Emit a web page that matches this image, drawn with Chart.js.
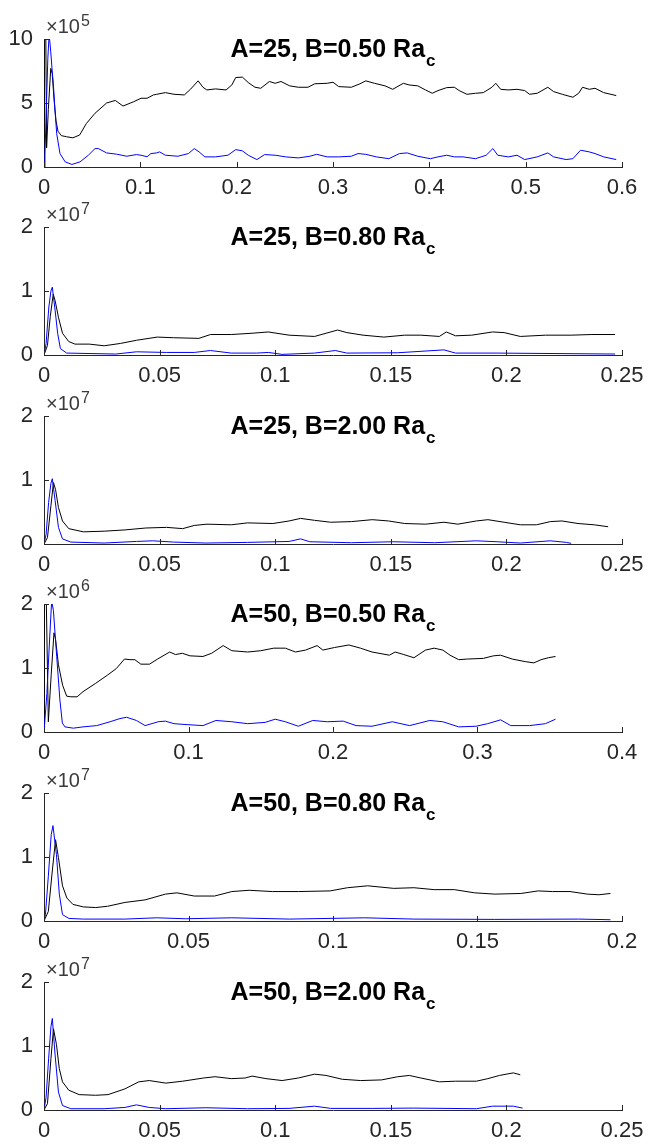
<!DOCTYPE html>
<html>
<head>
<meta charset="utf-8">
<script src="https://cdn.jsdelivr.net/npm/chart.js@4/dist/chart.umd.min.js"></script>
<style>
  html, body { margin: 0; padding: 0; background: #fff; }
  #wrap { position: relative; width: 648px; height: 1144px; overflow: hidden; }
  canvas { position: absolute; left: 0; }
</style>
</head>
<body>
<div id="wrap"></div>
<script>
// ---------- data (values in units of 10^exponent) ----------
const titles = ['A=25, B=0.50 Ra', 'A=25, B=0.80 Ra', 'A=25, B=2.00 Ra', 'A=50, B=0.50 Ra', 'A=50, B=0.80 Ra', 'A=50, B=2.00 Ra'];
const titleSub = 'c';
const exponents = [5, 7, 7, 6, 7, 7];
const xTicks = [
  [0, 0.1, 0.2, 0.3, 0.4, 0.5, 0.6],
  [0, 0.05, 0.1, 0.15, 0.2, 0.25],
  [0, 0.05, 0.1, 0.15, 0.2, 0.25],
  [0, 0.1, 0.2, 0.3, 0.4],
  [0, 0.05, 0.1, 0.15, 0.2],
  [0, 0.05, 0.1, 0.15, 0.2, 0.25]
];
const yTicks = [
  [0, 5, 10],
  [0, 1, 2],
  [0, 1, 2],
  [0, 1, 2],
  [0, 1, 2],
  [0, 1, 2]
];

const p1Black = [[0,0],[0.0002,12],[0.0017,12],[0.0027,1.5],[0.0045,4.5],[0.007,7.7],[0.0085,7.3],[0.0105,5.2],[0.0125,3.6],[0.0145,2.8],[0.018,2.45],[0.0236,2.36],[0.030,2.28],[0.037,2.5],[0.044,3.4],[0.053,4.2],[0.065,5.0],[0.074,5.2],[0.082,4.76],[0.093,5.1],[0.1007,5.37],[0.107,5.37],[0.1136,5.63],[0.117,5.68],[0.126,5.81],[0.135,5.68],[0.1457,5.63],[0.152,6.07],[0.16,6.73],[0.165,6.23],[0.169,6.02],[0.178,6.1],[0.189,6.02],[0.195,6.41],[0.199,6.99],[0.206,7.02],[0.212,6.6],[0.219,6.23],[0.225,6.15],[0.234,6.68],[0.24,6.54],[0.246,6.68],[0.255,6.34],[0.264,6.23],[0.274,6.23],[0.281,6.5],[0.294,6.54],[0.3,6.62],[0.306,6.28],[0.319,6.23],[0.328,6.5],[0.334,6.73],[0.343,6.54],[0.354,6.34],[0.362,6.07],[0.373,6.54],[0.379,6.41],[0.388,6.34],[0.396,6.02],[0.403,5.76],[0.409,5.97],[0.418,6.2],[0.426,6.23],[0.431,5.97],[0.439,5.68],[0.448,5.76],[0.456,5.81],[0.465,6.23],[0.469,6.54],[0.474,6.07],[0.482,6.02],[0.491,6.07],[0.499,5.97],[0.504,5.68],[0.512,5.76],[0.523,6.23],[0.529,5.89],[0.538,5.68],[0.549,5.45],[0.555,5.76],[0.559,6.23],[0.566,6.07],[0.572,6.15],[0.581,5.81],[0.594,5.58]];
const p1Blue = [[0,0],[0.001,1],[0.002,3.5],[0.003,6],[0.004,8.5],[0.005,9.9],[0.0058,10],[0.007,9],[0.0085,7.5],[0.0097,6.5],[0.0114,4.45],[0.0132,2.6],[0.0166,1.05],[0.022,0.4],[0.029,0.2],[0.0374,0.4],[0.046,0.92],[0.053,1.44],[0.0564,1.44],[0.065,1.1],[0.0755,1.0],[0.0858,0.84],[0.096,0.97],[0.1007,0.92],[0.107,0.8],[0.111,1.05],[0.117,1.1],[0.12,1.18],[0.126,0.92],[0.139,0.84],[0.15,1.05],[0.156,1.44],[0.161,1.18],[0.167,0.79],[0.178,0.79],[0.191,0.92],[0.199,1.36],[0.206,1.26],[0.212,0.92],[0.221,0.58],[0.229,0.97],[0.24,0.92],[0.251,0.79],[0.264,0.71],[0.276,0.84],[0.283,0.99],[0.294,0.79],[0.306,0.79],[0.319,0.84],[0.326,1.05],[0.334,0.99],[0.345,0.79],[0.358,0.65],[0.369,1.05],[0.377,1.1],[0.388,0.84],[0.401,0.65],[0.409,0.79],[0.418,0.92],[0.426,0.79],[0.435,0.79],[0.448,0.65],[0.459,0.92],[0.466,1.44],[0.471,0.92],[0.482,0.79],[0.491,0.92],[0.499,0.58],[0.512,0.79],[0.523,1.1],[0.529,0.79],[0.542,0.58],[0.549,0.65],[0.557,1.31],[0.566,1.18],[0.572,1.05],[0.581,0.79],[0.594,0.58]];

const p2Black = [[0,0],[0.0015,0.15],[0.0027,0.6],[0.004,0.95],[0.0048,0.85],[0.00625,0.59],[0.008,0.34],[0.0107,0.21],[0.0134,0.17],[0.0196,0.17],[0.026,0.144],[0.033,0.18],[0.040,0.23],[0.049,0.28],[0.056,0.27],[0.067,0.26],[0.072,0.32],[0.081,0.32],[0.09,0.34],[0.097,0.36],[0.106,0.31],[0.117,0.29],[0.122,0.34],[0.127,0.39],[0.131,0.35],[0.138,0.31],[0.147,0.28],[0.156,0.31],[0.163,0.31],[0.171,0.29],[0.174,0.36],[0.178,0.30],[0.185,0.31],[0.194,0.36],[0.199,0.35],[0.206,0.29],[0.217,0.31],[0.228,0.31],[0.237,0.32],[0.247,0.32]];
const p2Blue = [[0,0],[0.0009,0.18],[0.0021,0.75],[0.003,1.0],[0.0036,1.06],[0.0048,0.7],[0.0059,0.34],[0.0071,0.10],[0.0098,0.03],[0.031,0.015],[0.04,0.05],[0.053,0.04],[0.065,0.04],[0.072,0.07],[0.081,0.03],[0.092,0.03],[0.097,0.04],[0.103,0.01],[0.117,0.03],[0.126,0.07],[0.131,0.03],[0.153,0.035],[0.173,0.08],[0.178,0.03],[0.196,0.03],[0.247,0.015]];

const p3Black = [[0,0],[0.0015,0.1],[0.003,0.6],[0.0041,0.96],[0.005,0.85],[0.00625,0.57],[0.008,0.36],[0.0107,0.24],[0.017,0.19],[0.026,0.2],[0.035,0.22],[0.044,0.25],[0.053,0.26],[0.06,0.24],[0.065,0.29],[0.0705,0.31],[0.081,0.30],[0.088,0.33],[0.099,0.32],[0.106,0.36],[0.111,0.40],[0.117,0.37],[0.124,0.34],[0.133,0.35],[0.142,0.38],[0.149,0.36],[0.156,0.32],[0.165,0.31],[0.173,0.34],[0.179,0.31],[0.187,0.36],[0.192,0.38],[0.199,0.34],[0.206,0.30],[0.213,0.30],[0.219,0.35],[0.224,0.36],[0.231,0.32],[0.238,0.30],[0.244,0.27]];
const p3Blue = [[0,0],[0.0009,0.15],[0.002,0.65],[0.003,0.95],[0.0036,1.02],[0.0048,0.68],[0.00625,0.26],[0.008,0.08],[0.0116,0.03],[0.026,0.015],[0.04,0.04],[0.047,0.05],[0.056,0.03],[0.07,0.015],[0.088,0.025],[0.106,0.04],[0.111,0.08],[0.115,0.035],[0.133,0.02],[0.151,0.035],[0.169,0.02],[0.187,0.05],[0.196,0.035],[0.206,0.015],[0.219,0.05],[0.226,0.025],[0.228,0.01]];

const p4Black = [[0,0],[0.0002,2.3],[0.0014,2.3],[0.003,0.16],[0.005,0.9],[0.0069,1.55],[0.008,1.45],[0.01,1.05],[0.0129,0.73],[0.0157,0.56],[0.0186,0.55],[0.0229,0.55],[0.027,0.63],[0.0357,0.76],[0.044,0.89],[0.05,0.99],[0.0557,1.14],[0.0595,1.13],[0.0629,1.13],[0.067,1.06],[0.073,1.06],[0.0786,1.14],[0.087,1.25],[0.091,1.21],[0.0957,1.23],[0.101,1.19],[0.11,1.18],[0.116,1.23],[0.124,1.35],[0.13,1.27],[0.141,1.25],[0.15,1.27],[0.159,1.31],[0.167,1.31],[0.174,1.25],[0.181,1.28],[0.189,1.35],[0.193,1.28],[0.201,1.32],[0.211,1.36],[0.219,1.31],[0.227,1.25],[0.239,1.2],[0.243,1.25],[0.249,1.21],[0.256,1.16],[0.264,1.28],[0.27,1.31],[0.276,1.28],[0.281,1.2],[0.287,1.13],[0.293,1.14],[0.304,1.15],[0.311,1.19],[0.316,1.2],[0.324,1.14],[0.333,1.1],[0.339,1.08],[0.344,1.13],[0.349,1.16],[0.354,1.18]];
const p4Blue = [[0,0],[0.002,0.6],[0.004,1.5],[0.0053,2.05],[0.0065,1.9],[0.0088,1.18],[0.011,0.5],[0.0127,0.14],[0.0145,0.08],[0.0203,0.06],[0.027,0.08],[0.0365,0.1],[0.0457,0.16],[0.0526,0.21],[0.0572,0.23],[0.064,0.18],[0.07,0.1],[0.079,0.16],[0.084,0.17],[0.09,0.13],[0.099,0.115],[0.11,0.1],[0.119,0.18],[0.13,0.16],[0.141,0.13],[0.153,0.15],[0.16,0.2],[0.167,0.16],[0.176,0.09],[0.186,0.18],[0.196,0.16],[0.207,0.17],[0.216,0.1],[0.227,0.09],[0.241,0.16],[0.253,0.1],[0.267,0.18],[0.276,0.16],[0.287,0.08],[0.299,0.09],[0.307,0.13],[0.316,0.19],[0.323,0.1],[0.336,0.1],[0.347,0.13],[0.354,0.2]];

const p5Black = [[0,0],[0.0015,0.15],[0.0028,0.75],[0.004,1.27],[0.005,0.99],[0.0064,0.55],[0.0079,0.36],[0.01,0.26],[0.0136,0.22],[0.0179,0.21],[0.022,0.23],[0.028,0.29],[0.035,0.33],[0.042,0.42],[0.046,0.44],[0.052,0.39],[0.059,0.39],[0.065,0.46],[0.071,0.48],[0.079,0.46],[0.088,0.46],[0.099,0.47],[0.105,0.52],[0.112,0.55],[0.121,0.51],[0.128,0.52],[0.135,0.49],[0.142,0.49],[0.149,0.44],[0.156,0.42],[0.165,0.43],[0.171,0.47],[0.176,0.46],[0.182,0.46],[0.188,0.42],[0.192,0.41],[0.196,0.43]];
const p5Blue = [[0,0],[0.0005,0.1],[0.0015,0.7],[0.0025,1.35],[0.0031,1.49],[0.0043,1.04],[0.0053,0.42],[0.0064,0.10],[0.0086,0.04],[0.0136,0.03],[0.028,0.03],[0.039,0.05],[0.049,0.035],[0.065,0.05],[0.085,0.03],[0.111,0.05],[0.128,0.03],[0.156,0.025],[0.185,0.03],[0.196,0.02]];

const p6Black = [[0,0],[0.0015,0.1],[0.003,0.8],[0.0041,1.27],[0.0054,1.02],[0.0066,0.65],[0.008,0.44],[0.0107,0.31],[0.0152,0.24],[0.0223,0.23],[0.0277,0.24],[0.035,0.33],[0.041,0.44],[0.0455,0.46],[0.0527,0.42],[0.06,0.45],[0.069,0.5],[0.074,0.52],[0.081,0.49],[0.087,0.5],[0.09,0.53],[0.096,0.49],[0.103,0.46],[0.11,0.5],[0.117,0.56],[0.122,0.54],[0.129,0.48],[0.137,0.46],[0.146,0.47],[0.153,0.52],[0.158,0.54],[0.163,0.5],[0.171,0.44],[0.178,0.45],[0.187,0.45],[0.192,0.49],[0.197,0.54],[0.203,0.58],[0.206,0.55]];
const p6Blue = [[0,0],[0.0009,0.2],[0.002,0.8],[0.003,1.3],[0.0036,1.43],[0.0048,0.86],[0.00625,0.28],[0.008,0.07],[0.0116,0.02],[0.026,0.02],[0.035,0.04],[0.04,0.08],[0.0455,0.04],[0.0527,0.02],[0.07,0.035],[0.088,0.02],[0.106,0.025],[0.117,0.06],[0.124,0.025],[0.142,0.025],[0.16,0.03],[0.187,0.02],[0.194,0.06],[0.203,0.06],[0.207,0.03]];

const blackSeries = [p1Black, p2Black, p3Black, p4Black, p5Black, p6Black];
const blueSeries = [p1Blue, p2Blue, p3Blue, p4Blue, p5Blue, p6Blue];

// ---------- layout / style ----------
const FONT = '"Liberation Sans", Arial, Helvetica, sans-serif';
const AXIS = '#262626';
const canvasTops = [0, 188, 377, 565, 754, 943];
const CANVAS_H = 200, PLOT_TOP = 39, PLOT_H = 128, PLOT_LEFT = 44, PLOT_RIGHT_PAD = 26;

const decor = {
  id: 'decor',
  afterDraw(chart, args, opts) {
    const ctx = chart.ctx;
    const { left, right, top, bottom } = chart.chartArea;
    const xs = chart.scales.x, ys = chart.scales.y;
    ctx.save();
    // inward tick marks
    ctx.strokeStyle = AXIS;
    ctx.lineWidth = 1;
    ctx.beginPath();
    xs.ticks.forEach(t => {
      const px = Math.round(xs.getPixelForValue(t.value)) + 0.5;
      ctx.moveTo(px, bottom);
      ctx.lineTo(px, bottom - 5);
    });
    ys.ticks.forEach(t => {
      const py = Math.round(ys.getPixelForValue(t.value)) + 0.5;
      ctx.moveTo(left, py);
      ctx.lineTo(left + 5, py);
    });
    ctx.stroke();
    // exponent label
    ctx.fillStyle = '#3a3a3a';
    ctx.textAlign = 'left';
    ctx.textBaseline = 'alphabetic';
    ctx.font = '20px ' + FONT;
    const base = '\u00d710';
    ctx.fillText(base, left + 2, top - 6);
    const bw = ctx.measureText(base).width;
    ctx.font = '16px ' + FONT;
    ctx.fillText(String(opts.exp), left + 2 + bw + 1, top - 13);
    // title with subscript
    ctx.fillStyle = '#000';
    ctx.font = 'bold 25px ' + FONT;
    const mw = ctx.measureText(opts.title).width;
    ctx.font = 'bold 17px ' + FONT;
    const sw = ctx.measureText(titleSub).width;
    const cx = (left + right) / 2;
    const sx = cx - (mw + 1 + sw) / 2;
    const by = top + 18;
    ctx.font = 'bold 25px ' + FONT;
    ctx.fillText(opts.title, sx, by);
    ctx.font = 'bold 17px ' + FONT;
    ctx.fillText(titleSub, sx + mw + 1, by + 9);
    ctx.restore();
  }
};

const fmt = v => String(Number(v.toFixed(4)));
const wrap = document.getElementById('wrap');

for (let i = 0; i < 6; i++) {
  const c = document.createElement('canvas');
  c.width = 648; c.height = CANVAS_H;
  c.style.width = '648px'; c.style.height = CANVAS_H + 'px';
  c.style.top = canvasTops[i] + 'px';
  wrap.appendChild(c);
  const xt = xTicks[i], yt = yTicks[i];
  new Chart(c, {
    type: 'line',
    data: {
      datasets: [
        { data: blueSeries[i].map(([x, y]) => ({ x, y })), borderColor: '#0000ff', borderWidth: 1, pointRadius: 0, tension: 0, fill: false },
        { data: blackSeries[i].map(([x, y]) => ({ x, y })), borderColor: '#000000', borderWidth: 1, pointRadius: 0, tension: 0, fill: false }
      ]
    },
    options: {
      responsive: false,
      animation: false,
      devicePixelRatio: 1,
      layout: { padding: { top: PLOT_TOP, right: PLOT_RIGHT_PAD, left: 0, bottom: 0 } },
      plugins: {
        legend: { display: false },
        tooltip: { enabled: false },
        title: { display: false },
        decor: { title: titles[i], exp: exponents[i] }
      },
      scales: {
        x: {
          type: 'linear',
          min: xt[0], max: xt[xt.length - 1],
          grid: { display: false, drawTicks: false },
          border: { display: true, color: AXIS, width: 1 },
          afterBuildTicks: s => { s.ticks = xt.map(v => ({ value: v })); },
          afterFit: s => { s.height = CANVAS_H - PLOT_TOP - PLOT_H; s.paddingLeft = 0; s.paddingRight = 0; },
          ticks: { color: AXIS, font: { family: FONT, size: 22 }, padding: 8, maxRotation: 0, autoSkip: false, callback: v => fmt(v) }
        },
        y: {
          type: 'linear',
          min: yt[0], max: yt[yt.length - 1],
          grid: { display: false, drawTicks: false },
          border: { display: true, color: AXIS, width: 1 },
          afterBuildTicks: s => { s.ticks = yt.map(v => ({ value: v })); },
          afterFit: s => { s.width = PLOT_LEFT; s.paddingTop = 0; s.paddingBottom = 0; },
          ticks: { color: AXIS, font: { family: FONT, size: 22 }, padding: 11, autoSkip: false, callback: v => fmt(v) }
        }
      }
    },
    plugins: [decor]
  });
}
</script>
</body>
</html>
